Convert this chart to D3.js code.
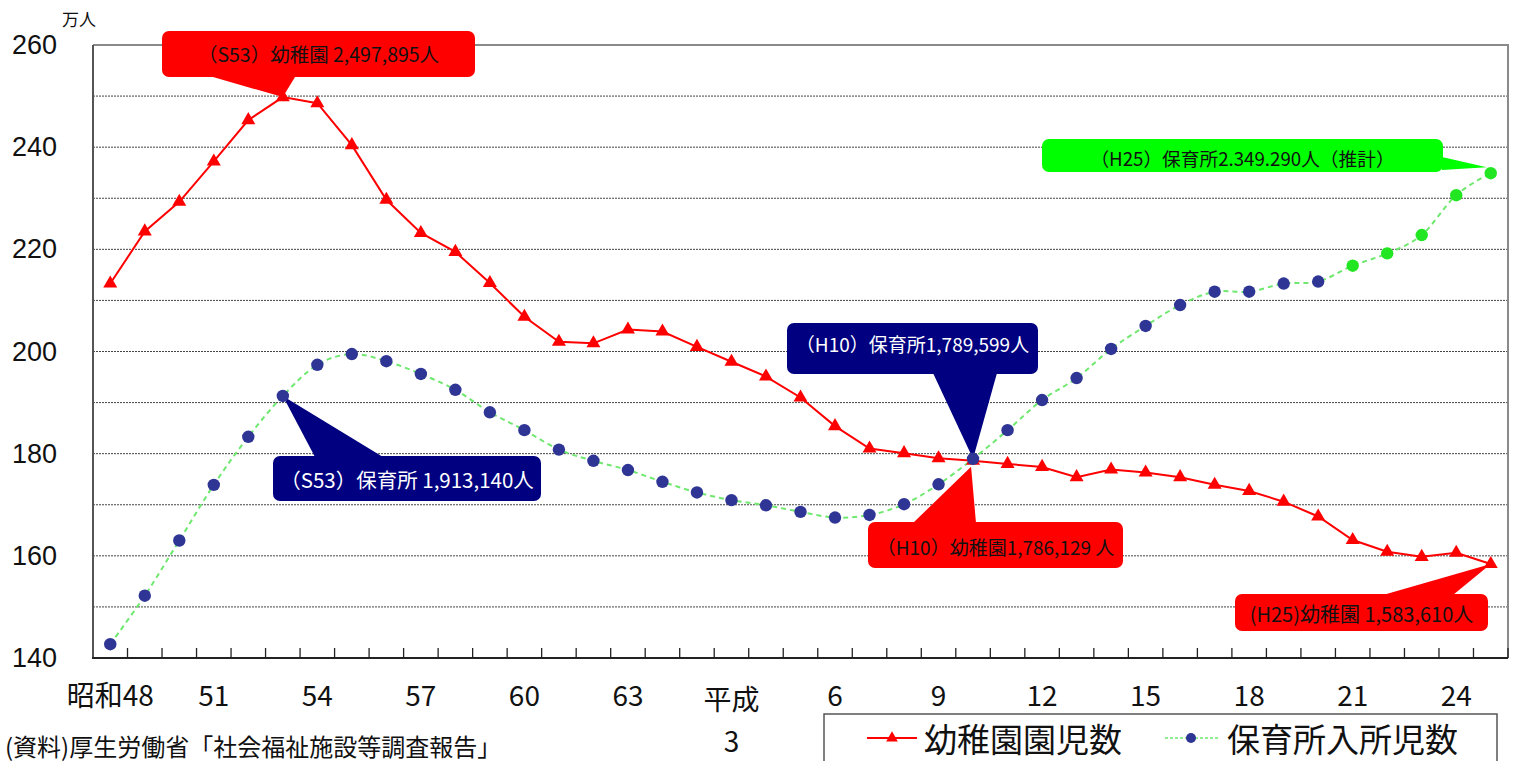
<!DOCTYPE html>
<html><head><meta charset="utf-8">
<script src="https://cdn.jsdelivr.net/npm/d3@7"></script>
<style>
html,body{margin:0;padding:0;background:#fff;}
svg{display:block;font-family:"Liberation Sans","Noto Sans CJK JP",sans-serif;}
.cjk{font-family:"Noto Sans CJK JP","Liberation Sans",sans-serif;}
</style></head>
<body><svg id="c" width="1518" height="761"></svg>
<script>
// ---- data ----
const years = [1973,1974,1975,1976,1977,1978,1979,1980,1981,1982,1983,1984,1985,1986,1987,1988,1989,1990,1991,1992,
               1993,1994,1995,1996,1997,1998,1999,2000,2001,2002,2003,2004,2005,2006,2007,2008,2009,2010,2011,2012,2013];
// 幼稚園園児数 (万人)
const kindergarten = [213.3,223.5,229.3,237.2,245.3,249.8,248.6,240.4,229.7,223.2,219.5,213.4,206.8,201.9,201.6,204.3,203.9,200.9,198.0,195.1,
                      191.0,185.4,181.0,180.1,179.1,178.6,178.0,177.4,175.4,176.9,176.3,175.4,173.9,172.7,170.6,167.7,163.1,160.8,159.8,160.6,158.4];
// 保育所入所児数 (万人)
const nursery = [142.7,152.2,163.0,173.9,183.3,191.3,197.4,199.5,198.1,195.6,192.5,188.1,184.6,180.8,178.6,176.8,174.5,172.4,170.9,169.9,
                 168.6,167.5,168.0,170.1,174.0,179.0,184.6,190.5,194.8,200.5,205.0,209.1,211.7,211.7,213.3,213.7,216.8,219.2,222.8,230.6,234.9];
const firstEstimateYear = 2009; // 保育所: 推計値
const xTickLabels = [
  {year:1973, lines:["昭和48"]},{year:1976, lines:["51"]},{year:1979, lines:["54"]},{year:1982, lines:["57"]},
  {year:1985, lines:["60"]},{year:1988, lines:["63"]},{year:1991, lines:["平成","3"]},{year:1994, lines:["6"]},
  {year:1997, lines:["9"]},{year:2000, lines:["12"]},{year:2003, lines:["15"]},{year:2006, lines:["18"]},
  {year:2009, lines:["21"]},{year:2012, lines:["24"]}];
const yTickLabels = [140,160,180,200,220,240,260];
const yGrid = [150,160,170,180,190,200,210,220,230,240,250];
const seriesNames = ["幼稚園園児数","保育所入所児数"];
const callouts = [
  {text:"（S53）幼稚園 2,497,895人", series:"k", year:1978, fill:"#ff0000", color:"#111",
   box:[162,31,475,77], base:[[213,77],[295,77]], tipOff:[0,0], ty:53, fs:19.5},
  {text:"（S53）保育所 1,913,140人", series:"n", year:1978, fill:"#000080", color:"#fff",
   box:[273,456,541,501], base:[[315,457],[383,457]], tipOff:[0,0], ty:479, fs:20.5},
  {text:"（H10）保育所1,789,599人", series:"n", year:1998, fill:"#000080", color:"#fff",
   box:[787,323,1038,374], base:[[933,373],[997,373]], tipOff:[0,0], ty:343, fs:19},
  {text:"（H10）幼稚園1,786,129 人", series:"k", year:1998, fill:"#ff0000", color:"#111",
   box:[868,522,1123,568], base:[[913,523],[976,523]], tipOff:[-2,6], ty:546, fs:19},
  {text:"(H25)幼稚園 1,583,610人", series:"k", year:2013, fill:"#ff0000", color:"#111",
   box:[1235,594,1488,631], base:[[1383,595],[1453,595]], tipOff:[0,0], ty:613, fs:20},
  {text:"（H25）保育所2.349.290人（推計）", series:"n", year:2013, fill:"#00ff00", color:"#111",
   box:[1042,139,1443,172], base:[[1442,157],[1442,170]], tipOff:[-4,-6], ty:157, fs:18.7}
];

// ---- layout ----
const svg = d3.select("#c");
const L=93, R=1508, T=45, B=658;
const x = d3.scaleBand().domain(years).range([L,R]).paddingInner(0).paddingOuter(0);
const cx = yr => x(yr) + x.bandwidth()/2;
const y = d3.scaleLinear().domain([140,260]).range([B,T]);

// gridlines
svg.append("g").selectAll("line").data(yGrid).join("line")
  .attr("x1",L).attr("x2",R).attr("y1",d=>y(d)).attr("y2",d=>y(d))
  .attr("stroke","#444").attr("stroke-width",1).attr("stroke-dasharray","2,1");
// frame: top & right gray
svg.append("path").attr("d",`M${L},${y(260)}H${R}V${B}`).attr("fill","none")
  .attr("stroke","#8a8a8a").attr("stroke-width",2);
// left axis
svg.append("line").attr("x1",L).attr("x2",L).attr("y1",T).attr("y2",B)
  .attr("stroke","#555").attr("stroke-width",2);

// y labels
svg.append("g").selectAll("text").data(yTickLabels).join("text")
  .attr("x",57).attr("y",d=>y(d)).attr("text-anchor","end").attr("dominant-baseline","central")
  .attr("font-size",27).attr("fill","#111").text(d=>d);
svg.append("text").attr("class","cjk").attr("x",62).attr("y",18).attr("dominant-baseline","central")
  .attr("font-size",17).attr("fill","#111").text("万人");

// bottom axis with inward ticks at band boundaries
const xAxisG = svg.append("g");
xAxisG.append("line").attr("x1",L-1).attr("x2",R).attr("y1",B).attr("y2",B).attr("stroke","#222").attr("stroke-width",2);
xAxisG.selectAll("line.t").data(years.slice(1).concat(["end"])).join("line").attr("class","t")
  .attr("x1",d=>d==="end"?R:x(d)).attr("x2",d=>d==="end"?R:x(d)).attr("y1",B).attr("y2",B-10)
  .attr("stroke","#222").attr("stroke-width",1.3);

// x labels
const xl = svg.append("g").selectAll("text").data(xTickLabels).join("text")
  .attr("class","cjk").attr("text-anchor","middle").attr("font-size",28).attr("fill","#111");
xl.each(function(d){
  const t=d3.select(this);
  d.lines.forEach((ln,i)=>{
    t.append("tspan").attr("x",cx(d.year)).attr("y",i===0?(d.lines.length>1?710:706):752).text(ln);
  });
});

// source
svg.append("text").attr("class","cjk").attr("x",5).attr("y",745).attr("dominant-baseline","central")
  .attr("font-size",24).attr("fill","#111").text("(資料)厚生労働省「社会福祉施設等調査報告」");

// callouts
const pt = (s,yr)=>[cx(yr), y((s==="k"?kindergarten:nursery)[years.indexOf(yr)])];
const cg = svg.append("g");
callouts.forEach(c=>{
  const [x0,y0,x1,y1]=c.box;
  const tip = pt(c.series,c.year);
  const tp=[tip[0]+c.tipOff[0], tip[1]+c.tipOff[1]];
  cg.append("rect").attr("x",x0).attr("y",y0).attr("width",x1-x0).attr("height",y1-y0)
    .attr("rx",7).attr("fill",c.fill);
  cg.append("path").attr("d",`M${c.base[0][0]},${c.base[0][1]}L${tp[0]},${tp[1]}L${c.base[1][0]},${c.base[1][1]}Z`)
    .attr("fill",c.fill);
  cg.append("text").attr("class","cjk").attr("x",(x0+x1)/2).attr("y",c.ty).attr("text-anchor","middle")
    .attr("dominant-baseline","central").attr("font-size",c.fs).attr("fill",c.color).text(c.text);
});

// series lines
const kData = years.map((yr,i)=>({yr, v:kindergarten[i]}));
const nData = years.map((yr,i)=>({yr, v:nursery[i]}));
svg.append("path").datum(nData)
  .attr("d",d3.line().x(d=>cx(d.yr)).y(d=>y(d.v)).curve(d3.curveCardinal.tension(0)))
  .attr("fill","none").attr("stroke","#6ee86e").attr("stroke-width",2).attr("stroke-dasharray","5,4");
svg.append("path").datum(kData)
  .attr("d",d3.line().x(d=>cx(d.yr)).y(d=>y(d.v)))
  .attr("fill","none").attr("stroke","#ff0000").attr("stroke-width",2);

// markers
const tri = d3.symbol().type(d3.symbolTriangle).size(85);
svg.append("g").selectAll("path").data(kData).join("path")
  .attr("transform",d=>`translate(${cx(d.yr)},${y(d.v)})`).attr("d",tri).attr("fill","#ff0000");
svg.append("g").selectAll("circle").data(nData).join("circle")
  .attr("cx",d=>cx(d.yr)).attr("cy",d=>y(d.v)).attr("r",6.2)
  .attr("fill",d=>d.yr>=firstEstimateYear?"#22e622":"#2f3595");

// legend
const lg = svg.append("g");
lg.append("rect").attr("x",824).attr("y",714).attr("width",673).attr("height",50)
  .attr("fill","#fff").attr("stroke","#555").attr("stroke-width",1.5);
lg.append("line").attr("x1",867).attr("x2",917).attr("y1",738).attr("y2",738).attr("stroke","#ff0000").attr("stroke-width",2);
lg.append("path").attr("transform","translate(892,738)").attr("d",d3.symbol().type(d3.symbolTriangle).size(60)).attr("fill","#ff0000");
lg.append("text").attr("class","cjk").attr("x",924).attr("y",738).attr("dominant-baseline","central")
  .attr("font-size",33).attr("fill","#111").text(seriesNames[0]);
lg.append("line").attr("x1",1165).attr("x2",1218).attr("y1",738).attr("y2",738).attr("stroke","#6ee86e").attr("stroke-width",1.5).attr("stroke-dasharray","3,2");
lg.append("circle").attr("cx",1191).attr("cy",738).attr("r",5).attr("fill","#2f3595");
lg.append("text").attr("class","cjk").attr("x",1227).attr("y",738).attr("dominant-baseline","central")
  .attr("font-size",33).attr("fill","#111").text(seriesNames[1]);
</script></body></html>
